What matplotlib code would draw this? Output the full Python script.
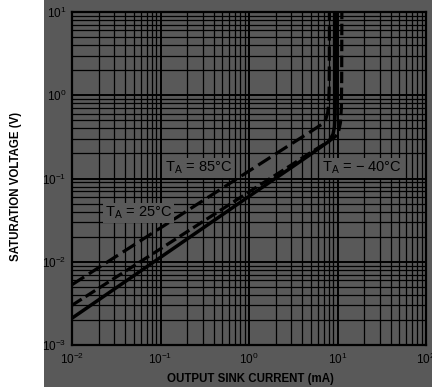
import matplotlib
matplotlib.use("Agg")
import matplotlib.pyplot as plt
from matplotlib.patches import Rectangle
from matplotlib.ticker import LogLocator, FixedLocator

plt.rcParams['font.family'] = ['Liberation Sans', 'DejaVu Sans']
plt.rcParams['mathtext.fontset'] = 'custom'
plt.rcParams['mathtext.rm'] = 'Liberation Sans'

gray = '#595959'

# curves (I in mA, V in V)
i_85 = [0.01, 0.1, 1, 3, 5, 6.9, 7.4, 7.75, 7.95, 8.05, 8.08, 8.1]
v_85 = [0.0053, 0.0255, 0.123, 0.26, 0.367, 0.46, 0.52, 0.62, 0.8, 1.2, 2.5, 10]

i_25 = [0.01, 0.1, 1, 3, 5, 8, 9.5, 10.3, 10.8, 11.05, 11.15, 11.2]
v_25 = [0.003, 0.0143, 0.069, 0.145, 0.206, 0.28, 0.32, 0.37, 0.47, 0.7, 1.5, 10]

i_m40 = [0.01, 0.1, 1, 3, 5, 8, 8.9, 9.25, 9.4, 9.45, 9.5]
v_m40 = [0.0021, 0.0113, 0.061, 0.135, 0.196, 0.28, 0.34, 0.42, 0.6, 1.2, 10]

x_ticks = [1e-2, 1e-1, 1e0, 1e1, 1e2]
x_labels = ['$\\mathregular{10^{-2}}$', '$\\mathregular{10^{-1}}$', '$\\mathregular{10^{0}}$',
            '$\\mathregular{10^{1}}$', '$\\mathregular{10^{2}}$']
y_ticks = [1e-3, 1e-2, 1e-1, 1e0, 1e1]
y_labels = ['$\\mathregular{10^{-3}}$', '$\\mathregular{10^{-2}}$', '$\\mathregular{10^{-1}}$',
            '$\\mathregular{10^{0}}$', '$\\mathregular{10^{1}}$']

fig = plt.figure(figsize=(4.32, 3.87), dpi=100, facecolor=gray)
# white strip on the left behind the y label
fig.patches.append(Rectangle((0, 0), 44 / 432, 1, transform=fig.transFigure,
                             facecolor='white', edgecolor='none', zorder=-5))

ax = fig.add_axes([72 / 432, 1 - 345 / 387, 354 / 432, 333 / 387])
ax.set_facecolor(gray)
ax.set_xscale('log')
ax.set_yscale('log')
ax.set_xlim(1e-2, 1e2)
ax.set_ylim(1e-3, 1e1)

ax.xaxis.set_major_locator(FixedLocator(x_ticks))
ax.yaxis.set_major_locator(FixedLocator(y_ticks))
ax.xaxis.set_minor_locator(LogLocator(base=10, subs=range(2, 10)))
ax.yaxis.set_minor_locator(LogLocator(base=10, subs=range(2, 10)))
ax.set_xticklabels(x_labels)
ax.set_yticklabels(y_labels)
ax.tick_params(which='both', length=0, labelsize=8.5, colors='black')
ax.tick_params(axis='x', pad=5)
ax.tick_params(axis='y', pad=4)
ax.grid(which='major', color='black', lw=1.4)
ax.grid(which='minor', color='black', lw=0.9)
for s in ax.spines.values():
    s.set_color('black')
    s.set_linewidth(1.6)

l1, = ax.plot(i_85, v_85, color='black', lw=2.3)
l1.set_dashes((4.5, 1.8))
l2, = ax.plot(i_25, v_25, color='black', lw=2.3)
l2.set_dashes((3.6, 1.4))
ax.plot(i_m40, v_m40, color='black', lw=2.5, solid_capstyle='butt')

box = dict(facecolor=gray, edgecolor='none', pad=1)
ax.text(0.263, 0.532, 'T$_{\\mathregular{A}}$ = 85°C', transform=ax.transAxes,
        fontsize=10.5, ha='left', va='center', bbox=box)
ax.text(0.093, 0.396, 'T$_{\\mathregular{A}}$ = 25°C', transform=ax.transAxes,
        fontsize=10.5, ha='left', va='center', bbox=box)
ax.text(0.706, 0.532, 'T$_{\\mathregular{A}}$ = \u2212 40°C', transform=ax.transAxes,
        fontsize=10.5, ha='left', va='center', bbox=box)

ax.set_xlabel('OUTPUT SINK CURRENT (mA)', fontsize=8.3, fontweight='bold')
ax.set_ylabel('SATURATION VOLTAGE (V)', fontsize=8.3, fontweight='bold')
ax.xaxis.set_label_coords(0.503, -0.084)
ax.yaxis.set_label_coords(-0.141, 0.477)

fig.savefig('out.png', dpi=100, facecolor=gray)
